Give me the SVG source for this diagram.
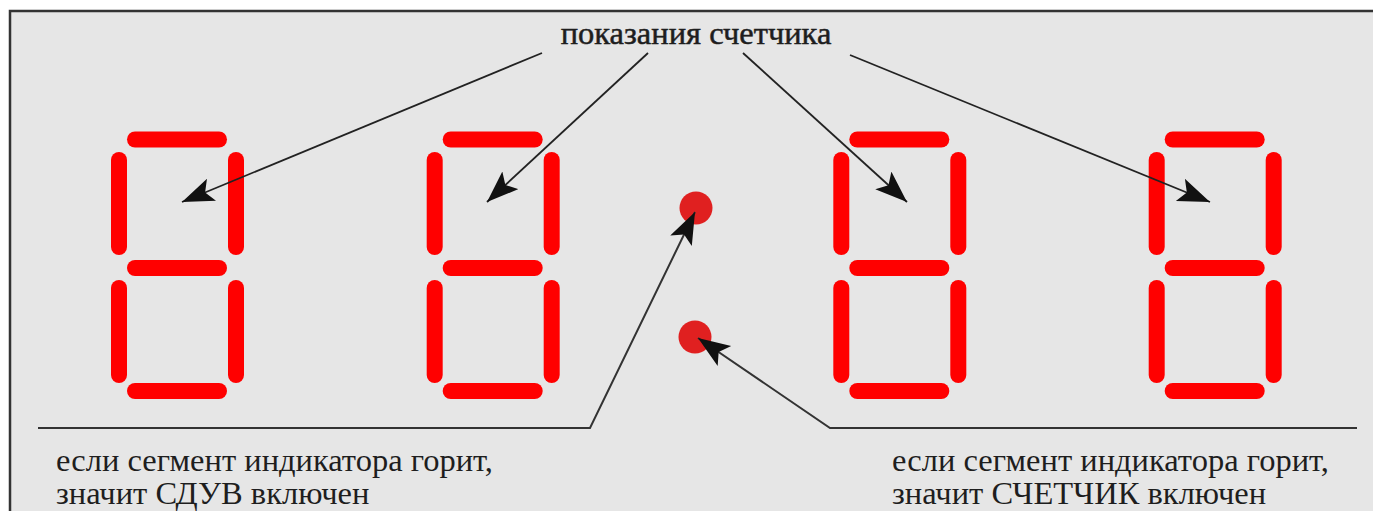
<svg xmlns="http://www.w3.org/2000/svg" xmlns:xlink="http://www.w3.org/1999/xlink" width="1373" height="511" viewBox="0 0 1373 511">
<style>
.seg{stroke:#ff0000;stroke-width:16;stroke-linecap:round;fill:none}
.dot{fill:#e02020}
.lead{stroke:#222;stroke-width:1.8;fill:none}
.rule{stroke:#333;stroke-width:2;fill:none}
.t{font-family:"Liberation Serif","Times New Roman",serif;font-size:32.5px;fill:#1e1e1e}
.h{stroke:#1e1e1e;stroke-width:0.5}
</style>
<defs>
<marker id="ah" markerUnits="userSpaceOnUse" markerWidth="34" markerHeight="26" viewBox="0 0 34 26" refX="32" refY="12" orient="auto">
<path d="M0,0 L32,12 L0,24 L7,12 Z" fill="#111"/>
</marker>
<g id="digit">
<line class="seg" x1="16" y1="139.5" x2="100" y2="139.5"/>
<line class="seg" x1="0" y1="160" x2="0" y2="247"/>
<line class="seg" x1="117" y1="160" x2="117" y2="247"/>
<line class="seg" x1="16" y1="268" x2="100" y2="268"/>
<line class="seg" x1="0" y1="288" x2="0" y2="375"/>
<line class="seg" x1="117" y1="288" x2="117" y2="375"/>
<line class="seg" x1="16" y1="391" x2="100" y2="391"/>
</g>
</defs>
<rect width="1373" height="511" fill="#ffffff"/>
<rect x="10" y="11" width="1363" height="500" fill="#e6e6e6"/>
<path d="M10,511 V11 H1373" stroke="#333" stroke-width="2.5" fill="none"/>
<g id="digit1"><use xlink:href="#digit" href="#digit" transform="translate(119,0)"/></g>
<g id="digit2"><use xlink:href="#digit" href="#digit" transform="translate(434.7,0)"/></g>
<g id="digit3"><use xlink:href="#digit" href="#digit" transform="translate(841.3,0)"/></g>
<g id="digit4"><use xlink:href="#digit" href="#digit" transform="translate(1156.7,0)"/></g>
<g id="colon-top"><circle class="dot" cx="696" cy="208" r="16.5"/></g>
<g id="colon-bottom"><circle class="dot" cx="695" cy="337" r="16.5"/></g>
<g id="label-top"><text class="t h" x="696" y="44" text-anchor="middle">показания счетчика</text></g>
<g id="label-left"><text class="t" x="56" y="471">если сегмент индикатора горит,</text><text class="t" x="56" y="504">значит СДУВ включен</text></g>
<g id="label-right"><text class="t" x="892" y="471">если сегмент индикатора горит,</text><text class="t" x="892" y="504">значит СЧЕТЧИК включен</text></g>
<g id="connectors">
<line class="lead" x1="542" y1="53" x2="182" y2="202" marker-end="url(#ah)"/>
<line class="lead" x1="648" y1="53" x2="487" y2="202" marker-end="url(#ah)"/>
<line class="lead" x1="743" y1="53" x2="907" y2="202" marker-end="url(#ah)"/>
<line class="lead" x1="850" y1="55" x2="1210" y2="202" marker-end="url(#ah)"/>
<path class="rule" d="M38,428 H590 L695,212" marker-end="url(#ah)"/>
<path class="rule" d="M1357,428 H830 L698,338" marker-end="url(#ah)"/>
</g>
</svg>
